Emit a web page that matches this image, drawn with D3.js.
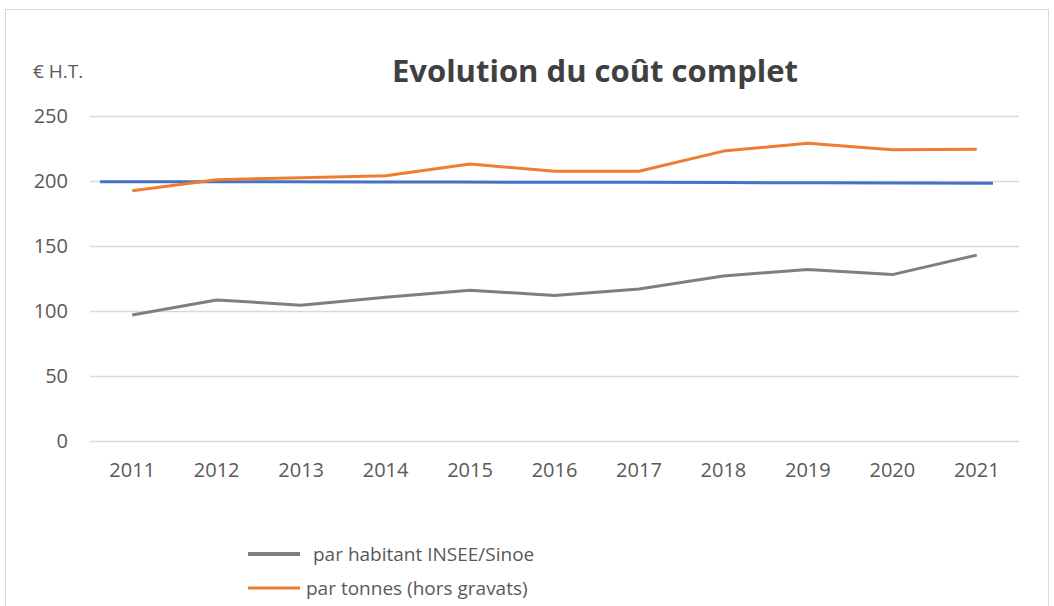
<!DOCTYPE html>
<html><head><meta charset="utf-8">
<script src="https://cdn.jsdelivr.net/npm/d3@7"></script>
<style>body{margin:0;background:#fff}svg{display:block}</style>
</head><body>
<script>
const years = ["2011","2012","2013","2014","2015","2016","2017","2018","2019","2020","2021"];
const parHabitant = [97, 108.5, 104.5, 110.5, 116, 112, 117, 127, 132, 128, 143];
const parTonnes = [192.5, 201, 202.5, 204, 213, 207.5, 207.5, 223, 229, 224, 224.5];
const reference = [199.5, 199.5, 199.5, 199.2, 199.2, 199, 199, 198.8, 198.6, 198.5, 198.2];
const yTicks = [0, 50, 100, 150, 200, 250];
const seriesNames = ["par habitant INSEE/Sinoe", "par tonnes (hors gravats)"];

const W = 1054, H = 606;
const svg = d3.select("body").append("svg").attr("width", W).attr("height", H);
const font = "'Open Sans', sans-serif";

svg.append("rect").attr("x", 5.5).attr("y", 9.5).attr("width", 1043).attr("height", 620)
  .attr("fill", "#fff").attr("stroke", "#d9d9d9");

const x = d3.scaleBand().domain(years).range([90, 1019]);
const y = d3.scaleLinear().domain([0, 250]).range([441, 116]);
const xc = d => x(d) + x.bandwidth() / 2;

// gridlines
const yAxis = d3.axisLeft(y).tickValues(yTicks).tickSize(-(1019 - 90)).tickPadding(22);
const gy = svg.append("g").attr("transform", "translate(90,0)").call(yAxis);
gy.select(".domain").remove();
gy.selectAll(".tick line").attr("stroke", "#d9d9d9").attr("stroke-width", 1.5);
gy.selectAll(".tick text").attr("font-family", font).attr("font-size", 20).attr("fill", "#595959");

const xAxis = d3.axisBottom(x).tickSize(0).tickPadding(22);
const gx = svg.append("g").attr("transform", "translate(0,441)").call(xAxis);
gx.select(".domain").remove();
gx.selectAll(".tick text").attr("font-family", font).attr("font-size", 20).attr("fill", "#595959");

// blue reference line, spans wider than categories
const xr = d3.scalePoint().domain(years).range([100, 993]);
const line = d3.line();
svg.append("path")
  .attr("d", line(years.map((d, i) => [xr(d), y(reference[i])])))
  .attr("fill", "none").attr("stroke", "#4472c4").attr("stroke-width", 3);

svg.append("path")
  .attr("d", line(years.map((d, i) => [xc(d), y(parTonnes[i])])))
  .attr("fill", "none").attr("stroke", "#ed7d31").attr("stroke-width", 3).attr("stroke-linejoin", "round");
svg.append("path")
  .attr("d", line(years.map((d, i) => [xc(d), y(parHabitant[i])])))
  .attr("fill", "none").attr("stroke", "#7f7f7f").attr("stroke-width", 3).attr("stroke-linejoin", "round");

// title
svg.append("text").attr("x", 595).attr("y", 82).attr("text-anchor", "middle")
  .attr("font-family", font).attr("font-weight", "bold").attr("font-size", 31).attr("fill", "#404040")
  .text("Evolution du coût complet");
svg.append("text").attr("x", 33).attr("y", 78)
  .attr("font-family", font).attr("font-size", 19).attr("fill", "#595959").text("€ H.T.");

// legend
const legColors = ["#7f7f7f", "#ed7d31"];
const legWidths = [4, 3];
const lg = svg.append("g");
seriesNames.forEach((n, i) => {
  const yy = 554 + i * 34;
  lg.append("line").attr("x1", 248).attr("x2", 300).attr("y1", yy).attr("y2", yy)
    .attr("stroke", legColors[i]).attr("stroke-width", legWidths[i]);
  lg.append("text").attr("x", i === 0 ? 313 : 306).attr("y", yy + 7)
    .attr("font-family", font).attr("font-size", 19).attr("fill", "#595959").text(n);
});
</script>
</body></html>
